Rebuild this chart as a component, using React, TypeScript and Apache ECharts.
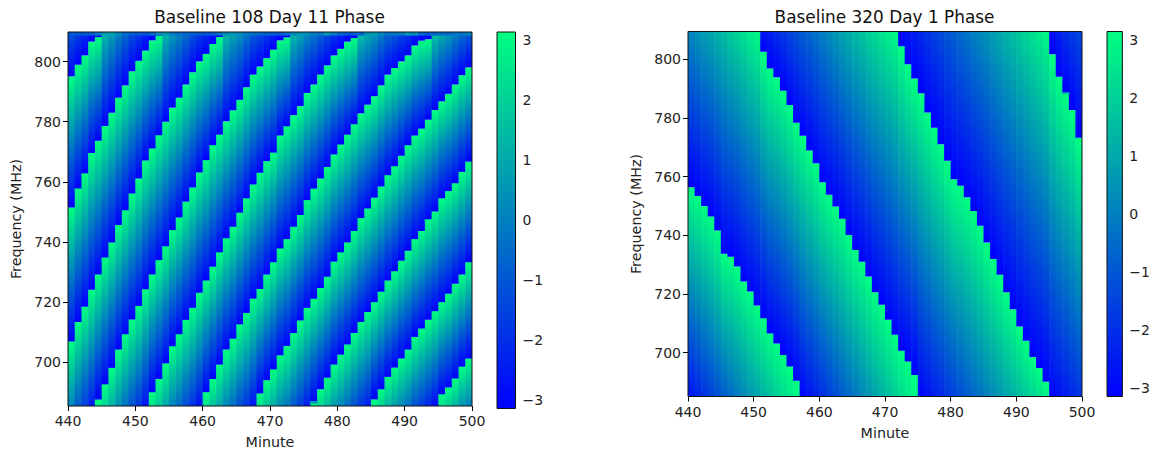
import React, { useEffect, useRef } from "react";
import * as echarts from "echarts";

// Tick labels
const minuteTicks = [440, 450, 460, 470, 480, 490, 500];
const freqTicks = [700, 720, 740, 760, 780, 800];
const phaseTicks = [-3, -2, -1, 0, 1, 2, 3];
const phaseRange = [-3.14159, 3.14159];

// Phase-wrap frequencies: [first column, then MHz per column]
const wraps108: number[][] = [
  [0, 795.1, 799, 802.1, 806.7, 808.2],
  [0, 751.5, 757.9, 762.9, 769.7, 773.8, 778.6, 783, 788, 792.1, 796.8, 800.3, 803.7, 807.1, 808.6],
  [0, 706.9, 713.4, 718.5, 724.1, 729.2, 734.9, 739.9, 745.7, 750.6, 756.2, 761.2, 767.2, 771.2, 775.6, 780, 784.7, 788, 792.4, 796.5, 800.1, 802.6, 805.9, 808.2],
  [4, 687.6, 692.6, 698.1, 704.2, 709.3, 714.2, 718.7, 724.3, 729.2, 734, 738.6, 744, 748.2, 753.5, 758.2, 763.2, 767.3, 772.3, 775.8, 780.2, 783.8, 787.3, 791.5, 795.7, 798.4, 801.2, 804, 807.1, 808.1],
  [12, 690, 694.4, 699.6, 705.3, 709.3, 714.1, 718.1, 723.1, 727.2, 731.8, 736.6, 741.3, 745.1, 749.8, 754.6, 759.2, 763.1, 767, 769.8, 775.5, 778.6, 782.2, 785.2, 789.6, 792.4, 795.7, 798.8, 802.1, 804.3, 806.7, 807.9],
  [20, 690, 694.4, 699.2, 704.2, 707.8, 712.6, 716.4, 721.1, 724.4, 729.2, 733.3, 737.9, 741, 745.1, 749, 754, 757.8, 761.2, 765, 769.2, 772.5, 775.8, 779.3, 782.8, 785.7, 788.5, 792.1, 795.7, 797.9, 800.1, 802.1, 805.4, 807, 807.5],
  [28, 689.6, 694, 697.6, 702.3, 705.4, 709.7, 713.9, 718.1, 721.1, 724.7, 728.5, 733.5, 736.6, 739.9, 743.7, 748, 751.2, 754.8, 758.5, 762.3, 765.3, 768.8, 772.3, 775.5, 777.8, 780.8, 783.9, 786.8, 789.3, 792.4, 795.5, 798.1],
  [36, 686.9, 691, 694.8, 699.2, 702.5, 705.9, 709.7, 713.4, 716.7, 720, 723.5, 727.2, 730.3, 733.8, 737.1, 741, 743.7, 747.6, 750.2, 754.6, 757, 759.6, 763.4, 766.8],
  [45, 687.6, 691, 695.1, 698.2, 701.2, 704.2, 708.4, 711.2, 714.1, 717, 720, 722.8, 726.1, 729.2, 733.3],
  [55, 689.3, 691.6, 694.6, 698.5, 701.2],
];
const bottom108 = [0.06, -0.89, -1.64, -2.47, 2.8, 2.07, 1.26, 0.35, -0.41, -1.16, -1.85, -2.72, 2.43, 1.76, 0.96, 0.08, -0.55, -1.31, -1.96, -2.77, 2.4, 1.7, 0.94, 0.13, -0.47, -1.26, -1.89, -2.68, 2.44, 1.71, 1.11, 0.31, -0.22, -0.96, -1.69, -2.43, 2.87, 2.16, 1.5, 0.73, 0.14, -0.47, -1.17, -1.85, -2.46, 2.73, 2.11, 1.36, 0.78, 0.22, -0.35, -1.15, -1.7, -2.28, -2.86, 2.38, 1.93, 1.35, 0.58, 0.04];
const top108 = [-1.03, -1.58, -2.02, -2.68, -2.9, 1.43, 0.8, 0.09, -0.5, -1.19, -1.7, -2.21, -2.72, -2.94, 1.42, 0.72, 0.23, -0.43, -1.06, -1.61, -2, -2.51, -2.87, 1.6, 1.04, 0.5, -0.16, -0.83, -1.26, -1.71, -2.17, -2.68, -2.85, 1.51, 1.03, 0.31, -0.15, -0.7, -1.22, -1.79, -2.16, -2.58, -2.8, 1.67, 1.18, 0.7, 0.07, -0.56, -0.95, -1.34, -1.7, -2.3, -2.6, -2.75, 1.8, 1.25, 0.78, 0.18, -0.4, -0.9];
const band108 = [-1, -1, -0.9, -0.8, -0.2, 0.6, 0.8, 0.2, -0.5, -0.9, -1, -1.1, -0.6, 0.3, 0.5, -0.1, -0.4, -0.6, -0.8, -0.9, -1, -0.9, -0.4, 0.2, 0.5, 0.3, -0.2, -0.4, -0.6, -0.8, -0.9, -0.9, -0.5, 0.2, 0.5, 0.4, 0, -0.2, 0.6, 0, -0.6, -0.9, -0.9, -0.8, 0.4, 0.6, 0.2, -0.3, -0.2, -0.1, 0.7, 0.5, -0.5, -0.9, -0.7, -0.5, -0.6, -0.3, -0.3, 0.1];
const glitches108 = [[476, 686.2, 687, 0.6, 0.6]];

// Right panel
const wraps320: number[][] = [
  [0, 756.4, 753.4, 750, 746.4, 741.6, 733.7, 732.7, 729.3, 724.2, 720.8, 716, 711.8, 706.6, 703.2, 699.3, 695.3, 690.5],
  [11, 802.6, 796.9, 793.9, 789.3, 784.4, 778.4, 773.9, 768.9, 764.6, 758.1, 753.8, 749.8, 745.6, 740.1, 735, 731, 725.9, 720.6, 716.3, 711.2, 706.1, 700.7, 697, 692.4],
  [32, 804.5, 798.3, 793.5, 788.4, 781.9, 776.7, 771, 765.4, 759.1, 756.9, 753, 748.3, 743.2, 737.5, 731.9, 726.5, 720.6, 714.8, 708.9, 704, 698.5, 694.7, 690],
  [55, 801.7, 794.1, 788.4, 782.7, 773.3],
];
const bottom320 = [-2.6, -2.25, -1.9, -1.55, -1.2, -0.85, -0.5, -0.15, 0.2, 0.55, 0.9, 1.25, 1.6, 1.95, 2.3, 2.65, 2.95, -3, -2.65, -2.3, -1.95, -1.6, -1.25, -0.9, -0.55, -0.2, 0.15, 0.5, 0.85, 1.2, 1.55, 1.9, 2.25, 2.6, 2.95, -3, -2.7, -2.4, -2.1, -1.8, -1.5, -1.2, -0.9, -0.6, -0.3, 0, 0.3, 0.6, 0.9, 1.2, 1.5, 1.8, 2.1, 2.45, 2.85, -3, -2.75, -2.45, -2.15, -1.85];
const top320 = [0.2, 0.5, 0.75, 1, 1.25, 1.55, 1.85, 2.1, 2.4, 2.7, 3, -2.65, -2.35, -2.05, -1.75, -1.45, -1.15, -0.85, -0.6, -0.3, 0, 0.3, 0.6, 0.9, 1.2, 1.45, 1.7, 2, 2.25, 2.5, 2.75, 3, -2.9, -2.6, -2.35, -2.1, -1.8, -1.55, -1.3, -1, -0.75, -0.5, -0.25, 0, 0.25, 0.5, 0.8, 1.05, 1.3, 1.6, 1.85, 2.1, 2.4, 2.65, 2.95, -2.7, -2.35, -2, -1.7, -1.4];
const glitches320 = [[497, 788.2, 788.8, 1.5, 1.5]];

const PI = 3.14159;
const Y108 = [685.3, 809.9];
const Y320 = [685.0, 809.5];

function columnCells(wraps: number[][], bottom: number[], top: number[], yr: number[], extra: number[][], band?: number[]) {
  const cells: number[][] = [];
  for (let c = 0; c < 60; c++) {
    const w: number[] = [];
    wraps.forEach((l) => {
      const k = c - l[0] + 1;
      if (k >= 1 && k < l.length) w.push(l[k]);
    });
    w.sort((a, b) => a - b);
    const m = minuteTicks[0] + c;
    cells.push([m, yr[0], w[0], bottom[c], PI]);
    for (let i = 0; i + 1 < w.length; i++) cells.push([m, w[i], w[i + 1], -PI, PI]);
    cells.push([m, w[w.length - 1], yr[1], -PI, top[c]]);
    if (band) cells.push([m, 808.7, yr[1], band[c], band[c]]);
  }
  return cells.concat(extra);
}

function winter(p: number) {
  const t = Math.max(0, Math.min(1, (p + PI) / (2 * PI)));
  return `rgb(0,${Math.round(255 * t)},${Math.round(255 - 127 * t)})`;
}

const renderCell = (_: any, api: any) => {
  const x0 = api.value(0);
  const a = api.coord([x0, api.value(2)]);
  const b = api.coord([x0 + 1, api.value(1)]);
  const cs = _.coordSys;
  const last = x0 === 499;
  const topEdge = Math.abs(a[1] - cs.y) < 0.5;
  const botEdge = Math.abs(b[1] - (cs.y + cs.height)) < 0.5;
  return {
    type: "rect",
    shape: {
      x: a[0],
      y: a[1],
      width: b[0] - a[0] + (last ? 0 : 0.6),
      height: b[1] - a[1] + (botEdge || topEdge ? 0 : 0.3),
    },
    style: {
      fill: new echarts.graphic.LinearGradient(0, 0, 0, 1, [
        { offset: 0, color: winter(api.value(4)) },
        { offset: 1, color: winter(api.value(3)) },
      ]),
    },
    silent: true,
  };
};

const renderBar = (_: any, api: any) => {
  const a = api.coord([0, api.value(1)]);
  const b = api.coord([1, api.value(0)]);
  return {
    type: "rect",
    shape: { x: a[0], y: a[1], width: b[0] - a[0], height: b[1] - a[1] },
    style: {
      fill: new echarts.graphic.LinearGradient(0, 0, 0, 1, [
        { offset: 0, color: winter(PI) },
        { offset: 1, color: winter(-PI) },
      ]),
    },
    silent: true,
  };
};

const FONT = "DejaVu Sans";
const fmt = (v: number) => (v < 0 ? "\u2212" + Math.abs(v) : String(v));

const grids = [
  { left: 68, top: 32, width: 404, height: 376 },
  { left: 497, top: 32, width: 18.5, height: 376.5 },
  { left: 688, top: 31.5, width: 394, height: 365 },
  { left: 1107, top: 31.5, width: 17.5, height: 365 },
];

function minuteAxis(gridIndex: number) {
  return {
    type: "value",
    gridIndex,
    min: 440,
    max: 500,
    interval: 10,
    name: "Minute",
    nameLocation: "middle",
    nameGap: 29,
    nameTextStyle: { fontFamily: FONT, fontSize: 14.3, color: "#222" },
    axisLine: { show: false },
    splitLine: { show: false },
    axisTick: { show: true, length: 5, lineStyle: { color: "#000" } },
    axisLabel: { fontFamily: FONT, fontSize: 14, color: "#222", margin: 8 },
  };
}
function freqAxis(gridIndex: number, yr: number[]) {
  return {
    type: "value",
    gridIndex,
    min: yr[0],
    max: yr[1],
    name: "Frequency (MHz)",
    nameLocation: "middle",
    nameRotate: 90,
    nameGap: 45,
    nameTextStyle: { fontFamily: FONT, fontSize: 14.3, color: "#222" },
    axisLine: { show: false },
    splitLine: { show: false },
    axisTick: { show: true, length: 5, lineStyle: { color: "#000" }, customValues: freqTicks },
    axisLabel: { fontFamily: FONT, fontSize: 14, color: "#222", margin: 7, customValues: freqTicks, formatter: (v: number) => String(v) },
  };
}
function barX(gridIndex: number) {
  return { type: "value", gridIndex, min: 0, max: 1, show: false };
}
function barY(gridIndex: number) {
  return {
    type: "value",
    gridIndex,
    min: phaseRange[0],
    max: phaseRange[1],
    position: "right",
    axisLine: { show: false },
    splitLine: { show: false },
    axisTick: { show: true, length: 5, lineStyle: { color: "#000" }, customValues: phaseTicks },
    axisLabel: { fontFamily: FONT, fontSize: 14, color: "#222", margin: 7, customValues: phaseTicks, formatter: fmt },
  };
}

export default function App() {
  const ref = useRef<HTMLDivElement>(null);
  useEffect(() => {
    document.body.style.margin = "0";
    const chart = echarts.init(ref.current!, undefined, { renderer: "svg" });
    const titleStyle = { fontFamily: FONT, fontSize: 16.9, fontWeight: "normal", color: "#111" };
    const cellSeries = (i: number, data: number[][]) => ({
      type: "custom",
      xAxisIndex: i,
      yAxisIndex: i,
      renderItem: (p: any, api: any) => renderCell({ ...p, coordSys: p.coordSys }, api),
      data,
      clip: true,
      silent: true,
    });
    const barSeries = (i: number) => ({
      type: "custom",
      xAxisIndex: i,
      yAxisIndex: i,
      renderItem: renderBar,
      data: [phaseRange],
      silent: true,
    });
    chart.setOption({
      animation: false,
      backgroundColor: "#fff",
      title: [
        { text: "Baseline 108 Day 11 Phase", left: 264.5, top: 3, textAlign: "center", textStyle: titleStyle },
        { text: "Baseline 320 Day 1 Phase", left: 879.5, top: 3, textAlign: "center", textStyle: titleStyle },
      ],
      grid: grids.map((g) => ({ ...g, show: true, z: 10, borderColor: "#111", borderWidth: 1, backgroundColor: "transparent", containLabel: false })),
      xAxis: [minuteAxis(0), barX(1), minuteAxis(2), barX(3)],
      yAxis: [freqAxis(0, Y108), barY(1), freqAxis(2, Y320), barY(3)],
      series: [
        cellSeries(0, columnCells(wraps108, bottom108, top108, Y108, glitches108, band108)),
        barSeries(1),
        cellSeries(2, columnCells(wraps320, bottom320, top320, Y320, glitches320)),
        barSeries(3),
      ],
    });
    return () => chart.dispose();
  }, []);
  return <div ref={ref} style={{ position: "absolute", left: 0, top: 0, width: 1153, height: 454 }} />;
}
